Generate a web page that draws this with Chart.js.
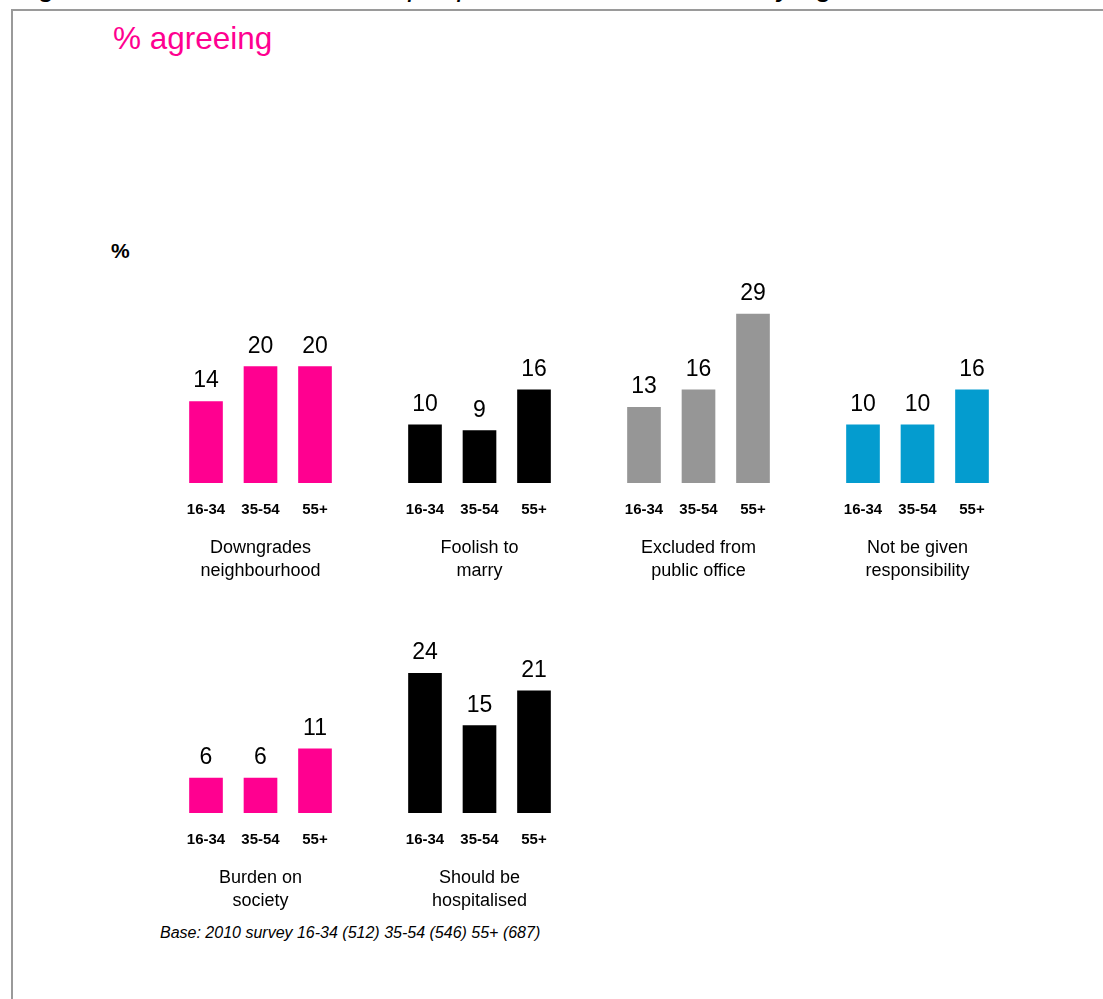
<!DOCTYPE html>
<html lang="en">
<head>
    <meta charset="UTF-8">
    <title>Social exclusion by age</title>
    <script src="https://cdn.jsdelivr.net/npm/chart.js"></script>
    <style>
        html, body {
            margin: 0;
            padding: 0;
            width: 1103px;
            height: 999px;
            overflow: hidden;
            background: white;
            font-family: "Liberation Sans", Arial, sans-serif;
            color: black;
        }
        .frame {
            position: absolute;
            left: 11px;
            top: 9px;
            width: 1200px;
            height: 1200px;
            border-top: 2px solid #9a9a9a;
            border-left: 2px solid #9a9a9a;
        }
        .fig-title {
            position: absolute;
            left: 15px;
            top: -29px;
            font-size: 29.5px;
            line-height: 30px;
            font-style: italic;
            white-space: nowrap;
        }
        .subtitle {
            position: absolute;
            left: 113px;
            top: 23px;
            font-size: 31.5px;
            line-height: 31px;
            color: #ff0090;
        }
        .unit {
            position: absolute;
            left: 111px;
            top: 240px;
            font-size: 21px;
            line-height: 21px;
            font-weight: bold;
        }
        .base {
            position: absolute;
            left: 160px;
            top: 925px;
            font-size: 16px;
            line-height: 16px;
            font-style: italic;
            white-space: nowrap;
        }
        .panel {
            position: absolute;
            width: 219px;
            height: 312px;
        }
    </style>
</head>
<body>
    <div class="fig-title">Figure 10: Social exclusion of people with mental illness, by age</div>
    <div class="frame"></div>
    <div class="subtitle">% agreeing</div>
    <div class="unit">%</div>

    <div class="panel" style="left:150.5px; top:275px;"><canvas id="c0" width="219" height="312"></canvas></div>
    <div class="panel" style="left:369.5px; top:275px;"><canvas id="c1" width="219" height="312"></canvas></div>
    <div class="panel" style="left:588.5px; top:275px;"><canvas id="c2" width="219" height="312"></canvas></div>
    <div class="panel" style="left:807.5px; top:275px;"><canvas id="c3" width="219" height="312"></canvas></div>
    <div class="panel" style="left:150.5px; top:605px;"><canvas id="c4" width="219" height="312"></canvas></div>
    <div class="panel" style="left:369.5px; top:605px;"><canvas id="c5" width="219" height="312"></canvas></div>

    <div class="base">Base: 2010 survey 16-34 (512) 35-54 (546) 55+ (687)</div>

    <script>
        // age bands on every panel
        const ageGroups = ['16-34', '35-54', '55+'];

        // statement captions, two lines each
        const statements = [
            ['Downgrades', 'neighbourhood'],
            ['Foolish to', 'marry'],
            ['Excluded from', 'public office'],
            ['Not be given', 'responsibility'],
            ['Burden on', 'society'],
            ['Should be', 'hospitalised']
        ];

        // % agreeing per age band
        const downgrades = [14, 20, 20];
        const foolish = [10, 9, 16];
        const excluded = [13, 16, 29];
        const responsibility = [10, 10, 16];
        const burden = [6, 6, 11];
        const hospitalised = [24, 15, 21];

        const series = [downgrades, foolish, excluded, responsibility, burden, hospitalised];
        const colours = ['#ff0090', '#000000', '#969696', '#049ccf', '#ff0090', '#000000'];

        const FONT = '"Liberation Sans", Arial, sans-serif';

        // number above each bar
        const valueLabels = {
            id: 'valueLabels',
            afterDatasetsDraw(chart) {
                const ctx = chart.ctx;
                const ds = chart.data.datasets[0];
                ctx.save();
                ctx.font = '23px ' + FONT;
                ctx.fillStyle = '#000';
                ctx.textAlign = 'center';
                ctx.textBaseline = 'alphabetic';
                chart.getDatasetMeta(0).data.forEach((bar, i) => {
                    ctx.fillText(ds.data[i], bar.x, bar.y - 14);
                });
                ctx.restore();
            }
        };

        series.forEach((values, n) => {
            new Chart(document.getElementById('c' + n), {
                type: 'bar',
                data: {
                    labels: ageGroups,
                    datasets: [{
                        data: values,
                        backgroundColor: colours[n],
                        borderWidth: 0,
                        barThickness: 33
                    }]
                },
                options: {
                    responsive: false,
                    animation: false,
                    devicePixelRatio: 1,
                    layout: { padding: { top: 10, left: 27.75, right: 27.75, bottom: 0 } },
                    scales: {
                        x: {
                            grid: { display: false, drawTicks: false },
                            border: { display: false },
                            ticks: {
                                color: '#000',
                                padding: 18,
                                font: { family: FONT, size: 15, weight: 'bold' }
                            },
                            title: {
                                display: true,
                                text: statements[n],
                                color: '#000',
                                padding: { top: 0, bottom: 4 },
                                font: { family: FONT, size: 18, lineHeight: 23 / 18 }
                            }
                        },
                        y: { display: false, min: 0, max: 34 }
                    },
                    plugins: {
                        legend: { display: false },
                        tooltip: { enabled: false }
                    }
                },
                plugins: [valueLabels]
            });
        });
    </script>
</body>
</html>
